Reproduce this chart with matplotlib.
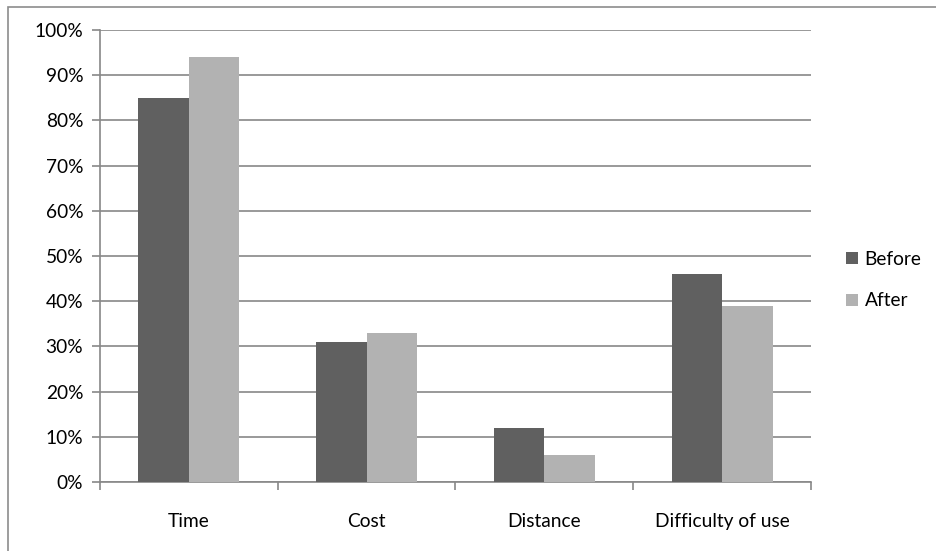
import matplotlib
matplotlib.use("Agg")
import matplotlib.pyplot as plt
from matplotlib.patches import Rectangle
import numpy as np

categories = ["Time", "Cost", "Distance", "Difficulty of use"]
before = [85, 31, 12, 46]
after = [94, 33, 6, 39]
yticks = [0, 10, 20, 30, 40, 50, 60, 70, 80, 90, 100]

plt.rcParams['font.family'] = ['Lato', 'DejaVu Sans']

W, H = 936, 551
fs = 13.8
fig = plt.figure(figsize=(W/100, H/100), dpi=100)
fig.patch.set_facecolor('white')

# outer chart border (left and top visible)
fig.patches.append(Rectangle((8/W, -0.1), 1.2, (H-7)/H + 0.1, transform=fig.transFigure,
                             fill=False, edgecolor='#8c8c8c', linewidth=1.2))

ax = fig.add_axes([100/W, 1-482/H, (811-100)/W, (482-30)/H])
x = np.arange(len(categories))
bw = 0.284
ax.bar(x - bw/2, before, bw, color='#606060', label='Before', zorder=3)
ax.bar(x + bw/2, after, bw, color='#b2b2b2', label='After', zorder=3)

ax.set_xlim(-0.5, len(categories) - 0.5)
ax.set_ylim(0, 100)
ax.set_yticks(yticks)
ax.set_yticklabels([f"{v}%" for v in yticks], fontsize=fs)
ax.yaxis.grid(True, color='#888888', linewidth=1.2, zorder=0)
ax.set_axisbelow(True)

ax.set_xticks(np.arange(-0.5, len(categories), 1.0))
ax.set_xticklabels([])
ax.set_xticks(x, minor=True)
ax.set_xticklabels(categories, minor=True, fontsize=fs)
ax.tick_params(axis='x', which='minor', length=0, pad=22)
ax.tick_params(axis='x', which='major', length=6, color='#888888', width=1.2)
ax.tick_params(axis='y', length=6, color='#888888', width=1.2, pad=6)

for s in ['top', 'right']:
    ax.spines[s].set_visible(False)
for s in ['left', 'bottom']:
    ax.spines[s].set_color('#888888')
    ax.spines[s].set_linewidth(1.2)

fig.legend(loc='center left', bbox_to_anchor=(829/W, 1-280/H), frameon=False,
           fontsize=fs, handlelength=0.6, handleheight=0.6, handletextpad=0.35,
           labelspacing=1.3)

fig.savefig("out.png", dpi=100, facecolor='white')
